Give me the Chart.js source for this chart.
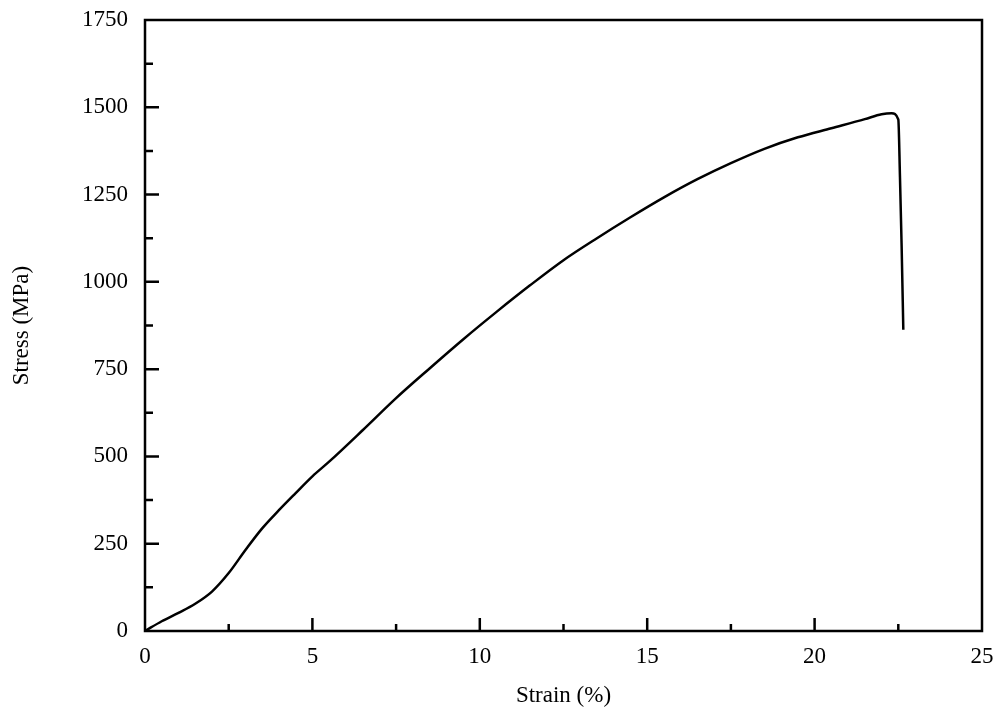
<!DOCTYPE html>
<html>
<head>
<meta charset="utf-8">
<title>Stress-Strain</title>
<script src="https://cdn.jsdelivr.net/npm/chart.js@4/dist/chart.umd.min.js"></script>
<style>
  html, body { margin: 0; padding: 0; background: #fff; }
  #wrap { width: 1000px; height: 720px; }
</style>
</head>
<body>
<div id="wrap"><canvas id="myChart" width="1000" height="720"></canvas></div>
<script>
// values
const strain = [0, 0.5, 1.0, 1.5, 2.0, 2.5, 3.0, 3.5, 4.0, 4.5, 5.0, 5.5, 6.5, 7.5, 8.5, 9.5, 10.5, 11.5, 12.5, 13.5, 14.5, 15.5, 16.5, 17.5, 18.5, 19.5, 20.5, 21.5, 22.0, 22.3, 22.5, 22.55, 22.6, 22.65];
const stress = [0, 28, 52, 78, 113, 166, 232, 294, 346, 395, 443, 485, 575, 667, 752, 835, 914, 990, 1062, 1125, 1185, 1242, 1294, 1340, 1381, 1414, 1440, 1466, 1480, 1483, 1465, 1300, 1100, 863];
const xTicks = [0, 5, 10, 15, 20, 25];
const yTicks = [0, 250, 500, 750, 1000, 1250, 1500, 1750];

const points = strain.map((s, i) => ({ x: s, y: stress[i] }));
const serif = "'Liberation Serif', 'DejaVu Serif', serif";

// frame + inward ticks (major and minor)
const framePlugin = {
  id: "frame",
  afterDraw(chart) {
    const ctx = chart.ctx;
    const a = chart.chartArea;
    const xs = chart.scales.x;
    const ys = chart.scales.y;
    ctx.save();
    ctx.strokeStyle = "#000";
    ctx.lineWidth = 2.5;
    ctx.strokeRect(a.left, a.top, a.right - a.left, a.bottom - a.top);
    ctx.beginPath();
    for (let i = 0; i < xTicks.length - 1; i++) {
      const major = xs.getPixelForValue(xTicks[i]);
      const minor = xs.getPixelForValue((xTicks[i] + xTicks[i + 1]) / 2);
      if (i > 0) {
        ctx.moveTo(major, a.bottom);
        ctx.lineTo(major, a.bottom - 13);
      }
      ctx.moveTo(minor, a.bottom);
      ctx.lineTo(minor, a.bottom - 7);
    }
    for (let i = 0; i < yTicks.length - 1; i++) {
      const major = ys.getPixelForValue(yTicks[i]);
      const minor = ys.getPixelForValue((yTicks[i] + yTicks[i + 1]) / 2);
      if (i > 0) {
        ctx.moveTo(a.left, major);
        ctx.lineTo(a.left + 14, major);
      }
      ctx.moveTo(a.left, minor);
      ctx.lineTo(a.left + 8, minor);
    }
    ctx.stroke();
    ctx.restore();
  },
};

document.addEventListener("DOMContentLoaded", () => {
  const ctx = document.getElementById("myChart").getContext("2d");
  const myChart = new Chart(ctx, {
    type: "scatter",
    data: {
      datasets: [
        {
          label: "Stress",
          data: points,
          showLine: true,
          borderColor: "#000",
          borderWidth: 2.5,
          pointRadius: 0,
          cubicInterpolationMode: "monotone",
        },
      ],
    },
    options: {
      responsive: false,
      animation: false,
      layout: {
        padding: { left: 0, right: 18, top: 20, bottom: 0 },
      },
      plugins: {
        legend: { display: false },
        tooltip: { enabled: false },
      },
      scales: {
        x: {
          type: "linear",
          min: 0,
          max: 25,
          grid: { display: false },
          border: { display: false },
          afterFit: (scale) => {
            scale.height = 89;
            scale.paddingLeft = 0;
            scale.paddingRight = 0;
          },
          ticks: {
            stepSize: 5,
            color: "#000",
            font: { family: serif, size: 23 },
            padding: 4,
            callback: (v) => String(v),
          },
          title: {
            display: true,
            text: "Strain (%)",
            color: "#000",
            font: { family: serif, size: 23 },
            padding: { top: 8, bottom: 10 },
          },
        },
        y: {
          min: 0,
          max: 1750,
          grid: { display: false },
          border: { display: false },
          afterFit: (scale) => {
            scale.width = 145;
            scale.paddingTop = 0;
            scale.paddingBottom = 0;
          },
          ticks: {
            stepSize: 250,
            color: "#000",
            font: { family: serif, size: 23 },
            padding: 9,
            callback: (v) => String(v),
          },
          title: {
            display: true,
            text: "Stress (MPa)",
            color: "#000",
            font: { family: serif, size: 23 },
            padding: { top: 8, bottom: 4 },
          },
        },
      },
    },
    plugins: [framePlugin],
  });
});
</script>
</body>
</html>
